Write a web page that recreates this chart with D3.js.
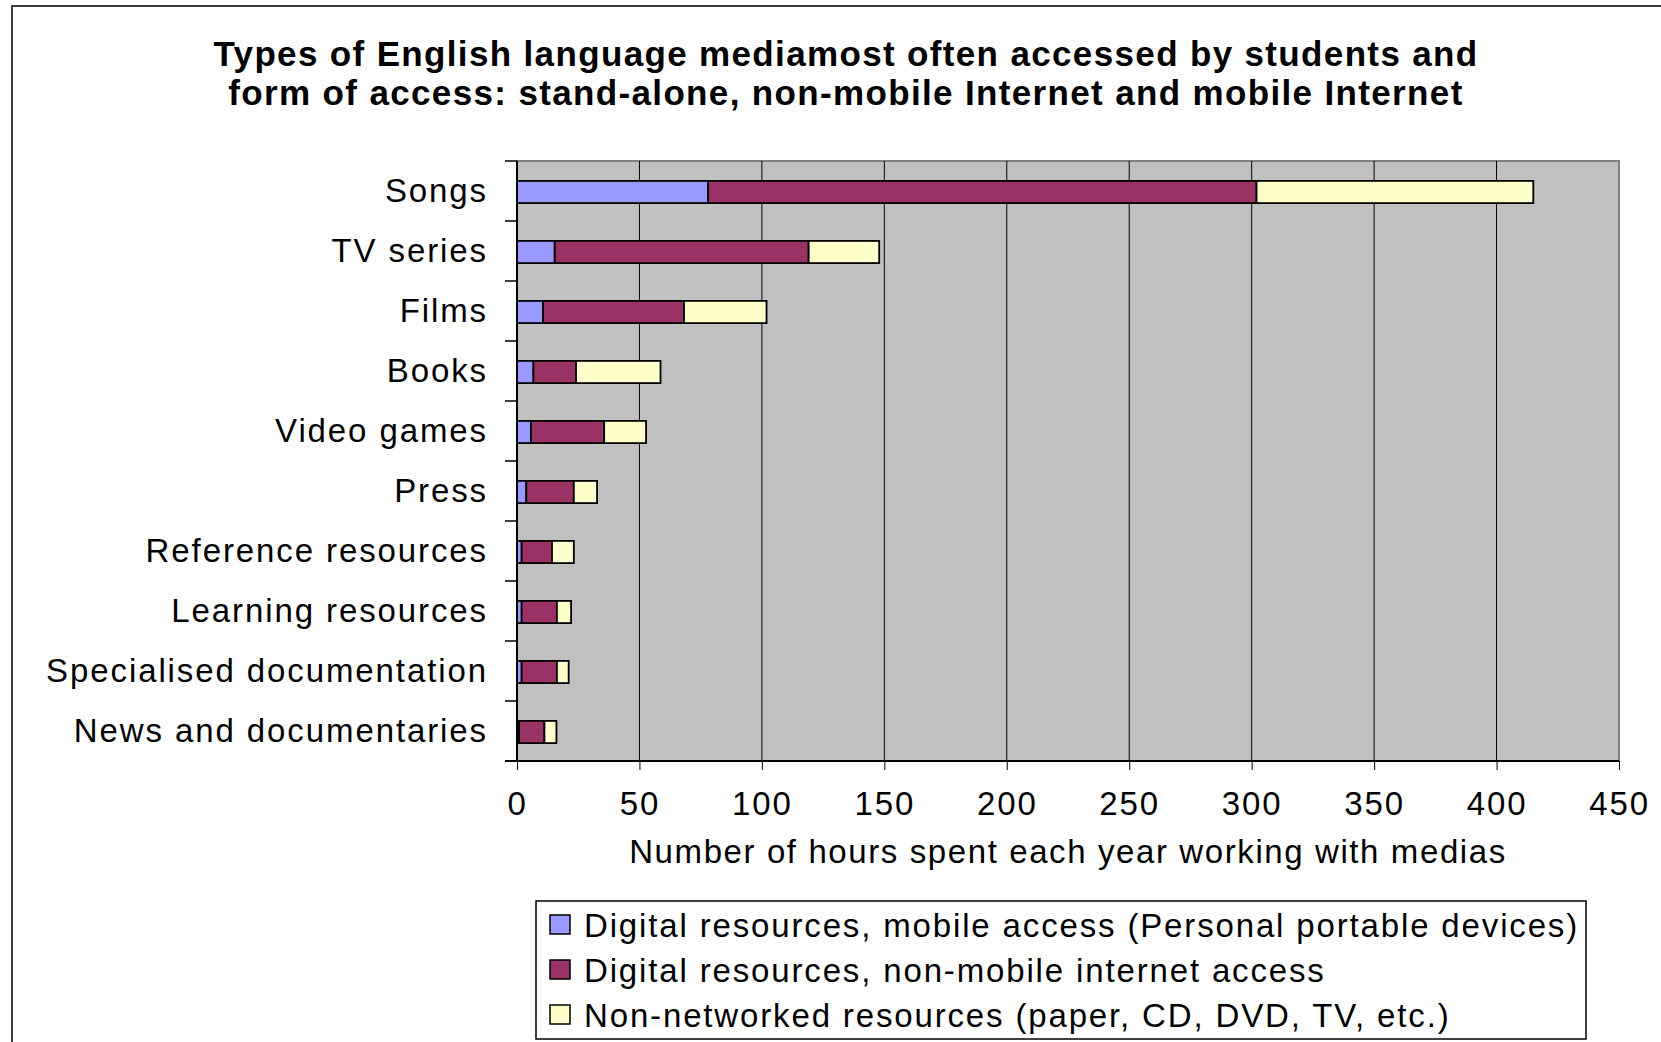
<!DOCTYPE html>
<html>
<head>
<meta charset="utf-8">
<script src="https://cdn.jsdelivr.net/npm/d3@7"></script>
<style>
  body { margin: 0; background: #fff; }
  text { font-family: "Liberation Sans", Arial, sans-serif; fill: #000; }
</style>
</head>
<body>
<script>
// data (hours per year)
const categories = ["Songs", "TV series", "Films", "Books", "Video games", "Press",
  "Reference resources", "Learning resources", "Specialised documentation", "News and documentaries"];
const mobile       = [78, 15.4, 10.6, 6.7, 5.7, 3.8, 1.9, 1.9, 1.9, 0.8];
const nonMobile    = [224, 103.7, 57.6, 17.4, 29.9, 19.4, 12.4, 14.4, 14.4, 10.4];
const nonNetworked = [113, 28.8, 33.7, 34.5, 17.1, 9.5, 8.9, 5.8, 4.8, 4.9];
const seriesKeys = ["mobile", "nonMobile", "nonNetworked"];
const seriesNames = [
  "Digital resources, mobile access (Personal portable devices)",
  "Digital resources, non-mobile internet access",
  "Non-networked resources (paper, CD, DVD, TV, etc.)"
];
const seriesColors = ["#9999FF", "#993366", "#FFFFCC"];
const xTicks = [0, 50, 100, 150, 200, 250, 300, 350, 400, 450];
const titleLines = [
  "Types of English language mediamost often accessed by students and",
  "form of access: stand-alone, non-mobile Internet and mobile Internet"
];
const xTitle = "Number of hours spent each year working with medias";

let svg, x, y;
const W = 1661, H = 1042;
const plot = {left: 517, right: 1619, top: 161, bottom: 761};

setupSvg();
setupScales();
drawPlotArea();
drawBars();
drawAxes();
drawTitle();
drawLegend();

function setupSvg() {
  svg = d3.select("body").append("svg")
    .attr("width", W)
    .attr("height", H);

  // outer chart frame (runs off the picture at right and bottom)
  svg.append("rect")
    .attr("x", 12).attr("y", 6)
    .attr("width", W).attr("height", H)
    .attr("fill", "none")
    .attr("stroke", "#000")
    .attr("stroke-width", 1.5);
}

function setupScales() {
  x = d3.scaleLinear()
    .domain([0, 450])
    .range([plot.left, plot.right]);

  y = d3.scaleBand()
    .domain(categories)
    .range([plot.top, plot.bottom])
    .padding(0);
}

function drawPlotArea() {
  svg.append("rect")
    .attr("x", plot.left).attr("y", plot.top)
    .attr("width", plot.right - plot.left)
    .attr("height", plot.bottom - plot.top)
    .attr("fill", "#C0C0C0")
    .attr("stroke", "#808080")
    .attr("stroke-width", 2);

  // vertical gridlines
  svg.append("g").selectAll("line")
    .data(xTicks.slice(1, -1))
    .enter().append("line")
    .attr("x1", d => x(d)).attr("x2", d => x(d))
    .attr("y1", plot.top).attr("y2", plot.bottom)
    .attr("stroke", "#000")
    .attr("stroke-width", 1);
}

function drawBars() {
  const rows = categories.map((c, i) => ({
    category: c, mobile: mobile[i], nonMobile: nonMobile[i], nonNetworked: nonNetworked[i]
  }));
  const stacked = d3.stack().keys(seriesKeys)(rows);
  const barH = y.bandwidth() * 0.37;

  svg.append("g").selectAll("g")
    .data(stacked)
    .enter().append("g")
    .attr("fill", (d, i) => seriesColors[i])
    .selectAll("rect")
    .data(d => d)
    .enter().append("rect")
    .attr("x", d => x(d[0]))
    .attr("width", d => x(d[1]) - x(d[0]))
    .attr("y", d => y(d.data.category) + (y.bandwidth() - barH) / 2 + 1)
    .attr("height", barH)
    .attr("stroke", "#000")
    .attr("stroke-width", 1.8);
}

function drawAxes() {
  // x axis
  const xAxis = svg.append("g")
    .attr("transform", `translate(0, ${plot.bottom})`)
    .call(d3.axisBottom(x).tickValues(xTicks).tickSize(9).tickPadding(22).tickSizeOuter(0));
  xAxis.select(".domain").remove();
  xAxis.selectAll(".tick line").attr("stroke", "#000");
  xAxis.selectAll("text")
    .style("font-size", "33px")
    .style("letter-spacing", "1.9px");

  svg.append("line")
    .attr("x1", plot.left - 12).attr("x2", plot.right)
    .attr("y1", plot.bottom).attr("y2", plot.bottom)
    .attr("stroke", "#000").attr("stroke-width", 2);

  svg.append("text")
    .attr("x", (plot.left + plot.right) / 2)
    .attr("y", 863)
    .attr("text-anchor", "middle")
    .style("font-size", "33px")
    .style("letter-spacing", "1.6px")
    .text(xTitle);

  // y axis: labels centred on bands, ticks on band edges
  const yAxis = svg.append("g")
    .attr("transform", `translate(${plot.left}, 0)`)
    .call(d3.axisLeft(y).tickSize(0).tickPadding(29));
  yAxis.select(".domain").remove();
  yAxis.selectAll("text")
    .style("font-size", "33px")
    .style("letter-spacing", "1.9px");

  svg.append("g").selectAll("line")
    .data(categories.map(c => y(c)).concat([plot.bottom]))
    .enter().append("line")
    .attr("x1", plot.left - 12).attr("x2", plot.left)
    .attr("y1", d => d).attr("y2", d => d)
    .attr("stroke", "#000").attr("stroke-width", 1.5);

  svg.append("line")
    .attr("x1", plot.left).attr("x2", plot.left)
    .attr("y1", plot.top).attr("y2", plot.bottom)
    .attr("stroke", "#000").attr("stroke-width", 2);
}

function drawTitle() {
  svg.append("g").selectAll("text")
    .data(titleLines)
    .enter().append("text")
    .attr("x", 846)
    .attr("y", (d, i) => 66 + i * 39)
    .attr("text-anchor", "middle")
    .style("font-size", "35px")
    .style("font-weight", "bold")
    .style("letter-spacing", "1.35px")
    .text(d => d);
}

function drawLegend() {
  const lg = svg.append("g");
  lg.append("rect")
    .attr("x", 536).attr("y", 901)
    .attr("width", 1050).attr("height", 138)
    .attr("fill", "#fff")
    .attr("stroke", "#000")
    .attr("stroke-width", 1.5);

  const items = lg.selectAll("g.item")
    .data(seriesNames)
    .enter().append("g")
    .attr("class", "item")
    .attr("transform", (d, i) => `translate(550, ${925 + i * 45})`);

  items.append("rect")
    .attr("x", 0).attr("y", -10)
    .attr("width", 20).attr("height", 19)
    .attr("fill", (d, i) => seriesColors[i])
    .attr("stroke", "#000")
    .attr("stroke-width", 1.5);

  items.append("text")
    .attr("x", 34)
    .attr("y", 12)
    .style("font-size", "33px")
    .style("letter-spacing", "1.85px")
    .text(d => d);
}
</script>
</body>
</html>
